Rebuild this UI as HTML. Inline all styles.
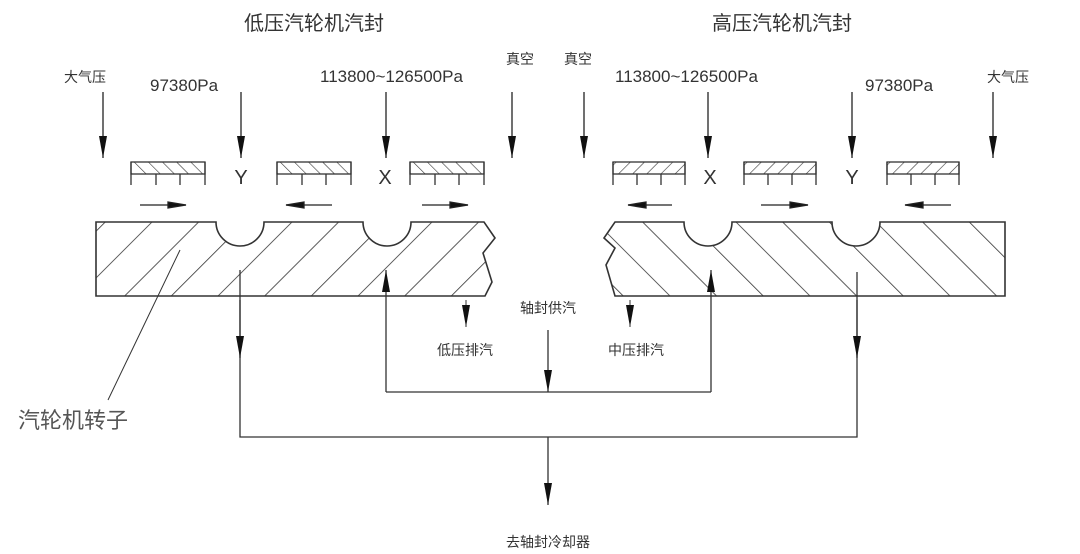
<!DOCTYPE html>
<html><head><meta charset="utf-8"><style>
html,body{margin:0;padding:0;background:#fff;}
svg{display:block;}
text{font-family:"Liberation Sans","Noto Sans CJK SC",sans-serif;fill:#333;}
</style></head><body>
<svg width="1080" height="554" viewBox="0 0 1080 554" xmlns="http://www.w3.org/2000/svg">
<defs>
<pattern id="hl" patternUnits="userSpaceOnUse" width="33" height="33" patternTransform="rotate(45)">
<line x1="0" y1="0" x2="0" y2="33" stroke="#333" stroke-width="1.6"/></pattern>
<pattern id="hr" patternUnits="userSpaceOnUse" width="33" height="33" patternTransform="rotate(-45)">
<line x1="0" y1="0" x2="0" y2="33" stroke="#333" stroke-width="1.6"/></pattern>
<pattern id="sl" patternUnits="userSpaceOnUse" width="10" height="10" patternTransform="rotate(-45)">
<line x1="0" y1="0" x2="0" y2="10" stroke="#333" stroke-width="1.2"/></pattern>
<pattern id="sr" patternUnits="userSpaceOnUse" width="10" height="10" patternTransform="rotate(45)">
<line x1="0" y1="0" x2="0" y2="10" stroke="#333" stroke-width="1.2"/></pattern>
<marker id="ad" markerWidth="22" markerHeight="8" refX="22" refY="4" orient="auto" markerUnits="userSpaceOnUse"><path d="M0,0 L22,4 L0,8 Z" fill="#111"/></marker>
</defs>
<g stroke="#333" stroke-width="1.6" fill="none">
<path d="M96,222 H216 A24,24 0 0 0 264,222 H363 A24,24 0 0 0 411,222 H484 L495,238 L483,253 L492,282 L485,296 H96 Z" fill="url(#hl)"/>
<path d="M615,222 H684 A24,24 0 0 0 732,222 H832 A24,24 0 0 0 880,222 H1005 V296 H615 L606,265 L615,248 L604,238 Z" fill="url(#hr)"/>
</g>
<g stroke="#333" stroke-width="1.3" fill="none">
<g id="bl">
<rect x="131" y="162" width="74" height="12" fill="url(#sl)"/>
<path d="M131,162 V185 M205,162 V185 M156,174 V185 M180,174 V185"/>
</g>
<use href="#bl" x="146"/><use href="#bl" x="279"/>
<g id="br">
<rect x="613" y="162" width="72" height="12" fill="url(#sr)"/>
<path d="M613,162 V185 M685,162 V185 M637,174 V185 M661,174 V185"/>
</g>
<use href="#br" x="131"/><use href="#br" x="274"/>
</g>
<g font-size="20" text-anchor="middle" style="fill:#444">
<text x="241" y="184">Y</text><text x="385" y="184">X</text>
<text x="710" y="184">X</text><text x="852" y="184">Y</text>
</g>
<g stroke="#222" stroke-width="1.3" marker-end="url(#ad)">
<line x1="103" y1="92" x2="103" y2="158"/><line x1="241" y1="92" x2="241" y2="158"/>
<line x1="386" y1="92" x2="386" y2="158"/><line x1="512" y1="92" x2="512" y2="158"/>
<line x1="584" y1="92" x2="584" y2="158"/><line x1="708" y1="92" x2="708" y2="158"/>
<line x1="852" y1="92" x2="852" y2="158"/><line x1="993" y1="92" x2="993" y2="158"/>
</g>
<g stroke="#222" stroke-width="1.3">
<path d="M140,205 H186"/><path d="M168,202 L186,205 L168,208Z" fill="#111"/>
<path d="M286,205 H332"/><path d="M304,202 L286,205 L304,208Z" fill="#111"/>
<path d="M422,205 H468"/><path d="M450,202 L468,205 L450,208Z" fill="#111"/>
<path d="M628,205 H672"/><path d="M646,202 L628,205 L646,208Z" fill="#111"/>
<path d="M761,205 H808"/><path d="M790,202 L808,205 L790,208Z" fill="#111"/>
<path d="M905,205 H951"/><path d="M923,202 L905,205 L923,208Z" fill="#111"/>
</g>
<g stroke="#333" stroke-width="1.3" fill="none">
<path d="M240,270 V437 H857 V272"/>
<path d="M386,392 H711"/>
<line x1="386" y1="392" x2="386" y2="270" marker-end="url(#ad)"/>
<line x1="711" y1="392" x2="711" y2="270" marker-end="url(#ad)"/>
<line x1="548" y1="330" x2="548" y2="392" marker-end="url(#ad)"/>
<line x1="548" y1="437" x2="548" y2="505" marker-end="url(#ad)"/>
<line x1="240" y1="300" x2="240" y2="358" marker-end="url(#ad)"/>
<line x1="857" y1="300" x2="857" y2="358" marker-end="url(#ad)"/>
<line x1="466" y1="300" x2="466" y2="327" stroke-width="1" marker-end="url(#ad)"/>
<line x1="630" y1="300" x2="630" y2="327" stroke-width="1" marker-end="url(#ad)"/>
<line x1="180" y1="250" x2="108" y2="400" stroke-width="1"/>
</g>
<g font-size="20" text-anchor="middle" style="fill:#333">
<text x="314" y="30">低压汽轮机汽封</text>
<text x="782" y="30">高压汽轮机汽封</text>
</g>
<g font-size="14" text-anchor="middle">
<text x="85" y="82">大气压</text><text x="1008" y="82">大气压</text>
<text x="520" y="64">真空</text><text x="578" y="64">真空</text>
<text x="548" y="313">轴封供汽</text>
<text x="465" y="355">低压排汽</text>
<text x="636" y="355">中压排汽</text>
<text x="548" y="547">去轴封冷却器</text>
</g>
<g font-size="17" style="fill:#555">
<text x="150" y="91">97380Pa</text>
<text x="320" y="82">113800~126500Pa</text>
<text x="615" y="82">113800~126500Pa</text>
<text x="865" y="91">97380Pa</text>
</g>
<text x="18" y="428" font-size="22" style="fill:#555">汽轮机转子</text>
</svg>
</body></html>
